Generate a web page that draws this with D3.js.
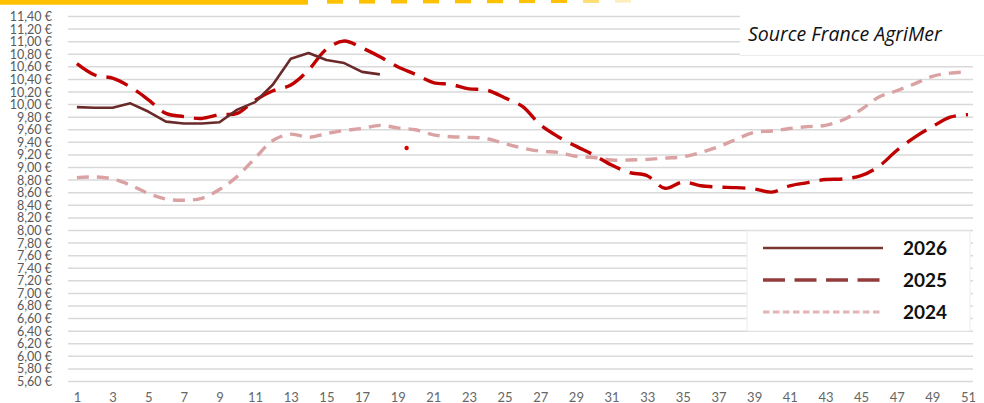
<!DOCTYPE html>
<html>
<head>
<meta charset="utf-8">
<script src="https://cdn.jsdelivr.net/npm/d3@7"></script>
<style>
  body { margin: 0; background: #fff; }
  svg { display: block; }
</style>
</head>
<body>
<svg id="chart"></svg>
<script>
// weeks 1..51
var weeks = d3.range(1, 52);
var xTicks = [1,3,5,7,9,11,13,15,17,19,21,23,25,27,29,31,33,35,37,39,41,43,45,47,49,51];
var yTicks = [5.6,5.8,6.0,6.2,6.4,6.6,6.8,7.0,7.2,7.4,7.6,7.8,8.0,8.2,8.4,8.6,8.8,9.0,9.2,9.4,9.6,9.8,10.0,10.2,10.4,10.6,10.8,11.0,11.2,11.4];

var series2026 = [9.96,9.95,9.95,10.02,9.89,9.73,9.70,9.70,9.72,9.92,10.04,10.32,10.73,10.82,10.71,10.66,10.52,10.48];
var series2025 = [10.65,10.47,10.42,10.28,10.08,9.86,9.81,9.78,9.84,9.86,10.07,10.22,10.31,10.55,10.88,11.01,10.90,10.76,10.60,10.48,
                  10.35,10.32,10.25,10.23,10.11,9.97,9.68,9.49,9.34,9.20,9.04,8.92,8.87,8.67,8.77,8.71,8.69,8.68,8.66,8.61,
                  8.71,8.76,8.81,8.82,8.87,9.02,9.27,9.48,9.65,9.80,9.84];
var series2024 = [8.84,8.85,8.82,8.72,8.59,8.50,8.48,8.51,8.65,8.86,9.15,9.43,9.53,9.48,9.54,9.59,9.62,9.67,9.63,9.60,
                  9.52,9.49,9.48,9.46,9.38,9.31,9.26,9.24,9.18,9.16,9.12,9.12,9.13,9.15,9.17,9.24,9.33,9.45,9.56,9.58,
                  9.62,9.65,9.67,9.76,9.92,10.12,10.22,10.33,10.45,10.50,10.52];
var strayPoint = [{week: 19.5, value: 9.31}];

var legendItems = [
  {label: "2026", color: "#7a3434", dash: null, width: 2.5},
  {label: "2025", color: "#933b3b", dash: "22,9.5", width: 3.5},
  {label: "2024", color: "#e3b4b4", dash: "6.5,3.5", width: 3}
];

var W = 984, H = 403;
var svg = d3.select("#chart").attr("width", W).attr("height", H);

var x = d3.scaleLinear().domain([1, 51]).range([76.9, 968]);
var y = d3.scaleLinear().domain([5.6, 11.4]).range([381.5, 16.5]);

var fmt = function(v) { return v.toFixed(2).replace(".", ",") + " €"; };

// top banner
svg.append("rect").attr("x", 0).attr("y", 0).attr("width", 308).attr("height", 4.7).attr("fill", "#ffc000");
var bannerDashes = d3.range(0, 10);
svg.selectAll(".bdash").data(bannerDashes).enter().append("rect")
  .attr("x", function(d) { return 327 + d * 32; })
  .attr("y", 0)
  .attr("width", 16)
  .attr("height", function(d) { return 3.7 - d * 0.1; })
  .attr("fill", "#ffc000")
  .attr("opacity", function(d) { return d < 8 ? 1 : (d == 8 ? 0.55 : 0.25); });

// gridlines
svg.append("g").selectAll("line").data(yTicks).enter().append("line")
  .attr("x1", 68).attr("x2", 973)
  .attr("y1", function(d) { return y(d); })
  .attr("y2", function(d) { return y(d); })
  .attr("stroke", "#d9d9d9").attr("stroke-width", 1.5);

// y axis labels
var yAxis = svg.append("g")
  .attr("transform", "translate(68,0)")
  .call(d3.axisLeft(y).tickValues(yTicks).tickFormat(fmt).tickSize(0).tickPadding(16));
yAxis.select(".domain").remove();
yAxis.selectAll("text")
  .attr("fill", "#595959")
  .style("font-family", "Lato, 'Open Sans', sans-serif")
  .style("font-size", "12.5px");

// x axis labels (cut at bottom edge like the original)
var xAxis = svg.append("g")
  .attr("transform", "translate(0,381)")
  .call(d3.axisBottom(x).tickValues(xTicks).tickFormat(d3.format("d")).tickSize(0).tickPadding(12));
xAxis.select(".domain").remove();
xAxis.selectAll("text")
  .attr("fill", "#666")
  .style("font-family", "Lato, 'Open Sans', sans-serif")
  .style("font-size", "13px");

// source box
svg.append("rect").attr("x", 740).attr("y", 6).attr("width", 244).attr("height", 50).attr("fill", "#fff");
svg.append("line").attr("x1", 740).attr("x2", 984).attr("y1", 55.5).attr("y2", 55.5)
  .attr("stroke", "#ececec").attr("stroke-width", 1);
svg.append("text").attr("x", 748).attr("y", 41)
  .style("font-family", "'Open Sans', sans-serif")
  .style("font-style", "italic")
  .style("font-size", "19.5px")
  .attr("fill", "#111")
  .text("Source France AgriMer");

// lines
var line = d3.line()
  .x(function(d, i) { return x(weeks[i]); })
  .y(function(d) { return y(d); });
var smooth = d3.line()
  .x(function(d, i) { return x(weeks[i]); })
  .y(function(d) { return y(d); })
  .curve(d3.curveCatmullRom.alpha(0.5));

svg.append("path").datum(series2024)
  .attr("fill", "none").attr("stroke", "#dba2a3").attr("stroke-width", 3.4)
  .attr("stroke-dasharray", "12,8").attr("d", smooth);

svg.append("path").datum(series2025)
  .attr("fill", "none").attr("stroke", "#c00000").attr("stroke-width", 3.4)
  .attr("stroke-dasharray", "23,10").attr("d", smooth);

svg.append("path").datum(series2026)
  .attr("fill", "none").attr("stroke", "#6b2a2a").attr("stroke-width", 2.6)
  .attr("stroke-linejoin", "round").attr("d", line);

svg.selectAll(".stray").data(strayPoint).enter().append("circle")
  .attr("cx", function(d) { return x(d.week); })
  .attr("cy", function(d) { return y(d.value); })
  .attr("r", 2.2).attr("fill", "#e00000");

// legend
var lg = svg.append("g");
lg.append("rect").attr("x", 747).attr("y", 231).attr("width", 223).attr("height", 100)
  .attr("fill", "#fff").attr("stroke", "#ececec").attr("stroke-width", 1);
var items = lg.selectAll(".item").data(legendItems).enter().append("g")
  .attr("transform", function(d, i) { return "translate(0," + (248 + i * 32) + ")"; });
items.append("line")
  .attr("x1", 763).attr("x2", 883).attr("y1", 0).attr("y2", 0)
  .attr("stroke", function(d) { return d.color; })
  .attr("stroke-width", function(d) { return d.width; })
  .attr("stroke-dasharray", function(d) { return d.dash; });
items.append("text")
  .attr("x", 903).attr("y", 7)
  .style("font-family", "Lato, sans-serif")
  .style("font-weight", "bold")
  .style("font-size", "19px")
  .attr("fill", "#111")
  .text(function(d) { return d.label; });
</script>
</body>
</html>
